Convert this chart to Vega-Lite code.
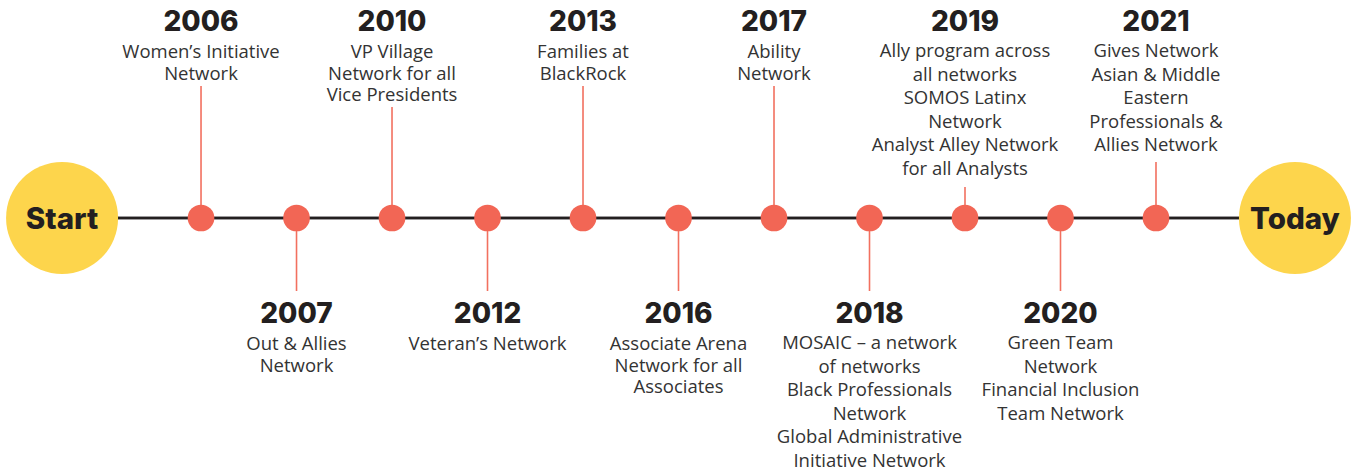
{
  "$schema": "https://vega.github.io/schema/vega-lite/v6.json",
  "width": 1351,
  "height": 471,
  "autosize": {"type": "fit", "contains": "padding"},
  "padding": 0,
  "background": "#ffffff",
  "view": {"stroke": null},
  "config": {"font": "Inter"},
  "datasets": {
    "events": [
      {"slot": 0, "year": "2006", "side": "top", "networks": 1, "nLines": 2, "lines": ["Women’s Initiative", "Network"]},
      {"slot": 1, "year": "2007", "side": "bottom", "networks": 1, "nLines": 2, "lines": ["Out & Allies", "Network"]},
      {"slot": 2, "year": "2010", "side": "top", "networks": 1, "nLines": 3, "lines": ["VP Village", "Network for all", "Vice Presidents"]},
      {"slot": 3, "year": "2012", "side": "bottom", "networks": 1, "nLines": 1, "lines": ["Veteran’s Network"]},
      {"slot": 4, "year": "2013", "side": "top", "networks": 1, "nLines": 2, "lines": ["Families at", "BlackRock"]},
      {"slot": 5, "year": "2016", "side": "bottom", "networks": 1, "nLines": 3, "lines": ["Associate Arena", "Network for all", "Associates"]},
      {"slot": 6, "year": "2017", "side": "top", "networks": 1, "nLines": 2, "lines": ["Ability", "Network"]},
      {"slot": 7, "year": "2018", "side": "bottom", "networks": 3, "nLines": 6, "lines": ["MOSAIC – a network", "of networks", "Black Professionals", "Network", "Global Administrative", "Initiative Network"]},
      {"slot": 8, "year": "2019", "side": "top", "networks": 3, "nLines": 6, "lines": ["Ally program across", "all networks", "SOMOS Latinx", "Network", "Analyst Alley Network", "for all Analysts"]},
      {"slot": 9, "year": "2020", "side": "bottom", "networks": 2, "nLines": 4, "lines": ["Green Team", "Network", "Financial Inclusion", "Team Network"]},
      {"slot": 10, "year": "2021", "side": "top", "networks": 2, "nLines": 5, "lines": ["Gives Network", "Asian & Middle", "Eastern", "Professionals &", "Allies Network"]}
    ],
    "ends": [
      {"label": "Start", "slot": -1.455},
      {"label": "Today", "slot": 11.455}
    ]
  },
  "encoding": {
    "x": {"field": "slot", "type": "quantitative", "axis": null,
          "scale": {"domain": [-2.105, 12.042], "nice": false, "zero": false}}
  },
  "layer": [
    {
      "data": {"name": "ends"},
      "mark": {"type": "rule", "stroke": "#231f20", "strokeWidth": 2.6},
      "encoding": {
        "x": {"datum": -1.455},
        "x2": {"datum": 11.455},
        "y": {"value": 218}
      }
    },
    {
      "data": {"name": "events"},
      "transform": [{"filter": "datum.side == 'top'"}],
      "mark": {"type": "rule", "stroke": "#f2705f", "strokeWidth": 1.6},
      "encoding": {
        "y": {"field": "nLines", "type": "quantitative", "axis": null,
              "scale": {"domain": [2, 3, 5, 6], "range": [86, 107, 162, 187], "nice": false, "zero": false}},
        "y2": {"value": 218}
      }
    },
    {
      "data": {"name": "events"},
      "transform": [{"filter": "datum.side == 'bottom'"}],
      "mark": {"type": "rule", "stroke": "#f2705f", "strokeWidth": 1.6},
      "encoding": {
        "y": {"value": 218},
        "y2": {"value": 291}
      }
    },
    {
      "data": {"name": "events"},
      "mark": {"type": "circle", "color": "#f26655", "opacity": 1, "size": 710},
      "encoding": {"y": {"value": 218}}
    },
    {
      "data": {"name": "ends"},
      "mark": {"type": "circle", "color": "#fdd54c", "opacity": 1, "size": 12544},
      "encoding": {"y": {"value": 218}}
    },
    {
      "data": {"name": "ends"},
      "mark": {"type": "text", "fontSize": 29.5, "fontWeight": 800, "color": "#231f20", "baseline": "middle", "align": "center"},
      "encoding": {"y": {"value": 220}, "text": {"field": "label"}}
    },
    {
      "data": {"name": "events"},
      "transform": [{"filter": "datum.side == 'top'"}],
      "mark": {"type": "text", "fontSize": 28, "fontWeight": 800, "color": "#231f20", "baseline": "middle", "align": "center"},
      "encoding": {"y": {"value": 23}, "text": {"field": "year"}}
    },
    {
      "data": {"name": "events"},
      "transform": [{"filter": "datum.side == 'bottom'"}],
      "mark": {"type": "text", "fontSize": 28, "fontWeight": 800, "color": "#231f20", "baseline": "middle", "align": "center"},
      "encoding": {"y": {"value": 315}, "text": {"field": "year"}}
    },
    {
      "data": {"name": "events"},
      "transform": [{"filter": "datum.side == 'top' && datum.networks == 1"}],
      "mark": {"type": "text", "font": "Open Sans", "fontSize": 18.5, "color": "#333333", "baseline": "top", "align": "center", "lineHeight": 21.5},
      "encoding": {"y": {"value": 43}, "text": {"field": "lines"}}
    },
    {
      "data": {"name": "events"},
      "transform": [{"filter": "datum.side == 'top' && datum.networks > 1"}],
      "mark": {"type": "text", "font": "Open Sans", "fontSize": 18.5, "color": "#333333", "baseline": "top", "align": "center", "lineHeight": 23.6},
      "encoding": {"y": {"value": 42}, "text": {"field": "lines"}}
    },
    {
      "data": {"name": "events"},
      "transform": [{"filter": "datum.side == 'bottom' && datum.networks == 1"}],
      "mark": {"type": "text", "font": "Open Sans", "fontSize": 18.5, "color": "#333333", "baseline": "top", "align": "center", "lineHeight": 21.5},
      "encoding": {"y": {"value": 335}, "text": {"field": "lines"}}
    },
    {
      "data": {"name": "events"},
      "transform": [{"filter": "datum.side == 'bottom' && datum.networks > 1"}],
      "mark": {"type": "text", "font": "Open Sans", "fontSize": 18.5, "color": "#333333", "baseline": "top", "align": "center", "lineHeight": 23.6},
      "encoding": {"y": {"value": 334}, "text": {"field": "lines"}}
    }
  ]
}
